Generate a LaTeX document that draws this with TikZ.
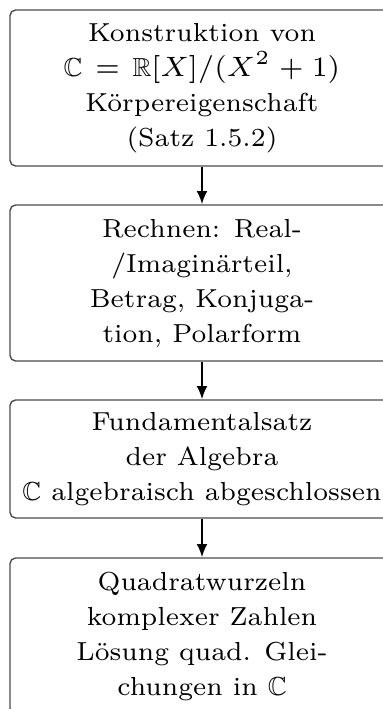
\documentclass[tikz,border=0pt]{standalone}
\usepackage{amssymb}
\usetikzlibrary{arrows.meta}
\tikzset{
  flowbox/.style={draw=black!70, line width=0.35pt, rounded corners=1.4pt,
    minimum width=96pt, align=center, inner sep=0pt,
    font=\fontsize{6.52}{8.75}\selectfont},
  flowarrow/.style={line width=0.5pt, -{Latex[length=3.3pt,width=2.7pt]}}
}
\begin{document}
\begin{tikzpicture}
\useasboundingbox (0pt,0pt) rectangle (95.75pt,-177.25pt);
\clip (0pt,0pt) rectangle (95.75pt,-177.25pt);
\node[flowbox, minimum height=39pt] (a) at (50.5pt,-22pt)
  {Konstruktion von\\ $\thickmuskip=7mu \medmuskip=4.5mu \mathbb{C} = \mathbb{R}[X]/(X^2+1)$\\ Körpereigenschaft\\ (Satz 1.5.2)};
\node[flowbox, minimum height=39pt] (b) at (50.5pt,-70.75pt)
  {Rechnen: Real-\\ /Imaginärteil,\\ Betrag, Konjuga-\\ tion, Polarform};
\node[flowbox, minimum height=29.5pt] (c) at (50.5pt,-114.75pt)
  {Fundamentalsatz\\ der Algebra\\ $\mathbb{C}$ algebraisch abgeschlossen};
\node[flowbox, minimum height=39pt] (d) at (50.5pt,-159pt)
  {Quadratwurzeln\\ komplexer Zahlen\\ Lösung quad. Glei-\\ chungen in $\mathbb{C}$};
\draw[flowarrow] (a) -- (b);
\draw[flowarrow] (b) -- (c);
\draw[flowarrow] (c) -- (d);
\end{tikzpicture}
\end{document}
